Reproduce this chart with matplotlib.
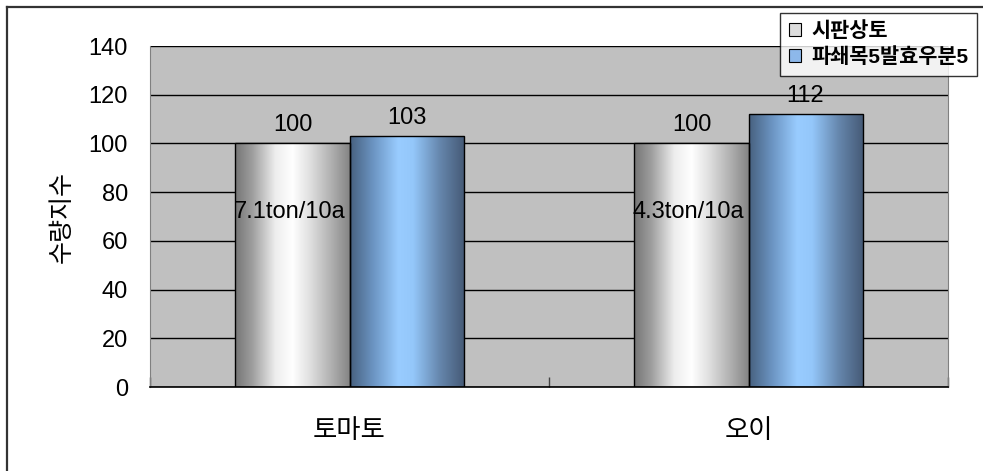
import numpy as np
import matplotlib
matplotlib.use("Agg")
import matplotlib.pyplot as plt
from matplotlib.colors import LinearSegmentedColormap
from matplotlib.patches import Patch
from matplotlib.lines import Line2D

plt.rcParams['font.family'] = ['Liberation Sans', 'Noto Sans CJK KR', 'DejaVu Sans']

# data
crops = ["토마토", "오이"]
series_names = ["시판상토", "파쇄목5발효우분5"]
commercial = [100, 100]
mixed = [103, 112]
yield_notes = ["7.1ton/10a", "4.3ton/10a"]
note_level = 72
yticks = [0, 20, 40, 60, 80, 100, 120, 140]

gray_cmap = LinearSegmentedColormap.from_list("gray_bar", [
    (0.00, (0.46, 0.46, 0.46)),
    (0.15, (0.62, 0.62, 0.62)),
    (0.35, (0.93, 0.93, 0.93)),
    (0.50, (1.00, 1.00, 1.00)),
    (0.65, (0.88, 0.88, 0.88)),
    (0.85, (0.68, 0.68, 0.68)),
    (1.00, (0.52, 0.52, 0.52)),
])
blue_cmap = LinearSegmentedColormap.from_list("blue_bar", [
    (0.00, (0.28, 0.38, 0.50)),
    (0.20, (0.42, 0.58, 0.76)),
    (0.42, (0.60, 0.80, 1.00)),
    (0.55, (0.58, 0.78, 0.98)),
    (0.78, (0.40, 0.53, 0.68)),
    (1.00, (0.27, 0.35, 0.46)),
])

fig = plt.figure(figsize=(9.83, 4.71), dpi=100)
ax = fig.add_axes([150 / 983, 1 - 387 / 471, 798 / 983, 341 / 471])
ax.set_facecolor("#c0c0c0")

x = np.arange(len(crops))
w = 0.286
grad = np.linspace(0, 1, 256).reshape(1, -1)

bars_a = ax.bar(x - w / 2, commercial, w, facecolor="none", edgecolor="black", linewidth=1, zorder=3)
bars_b = ax.bar(x + w / 2, mixed, w, facecolor="none", edgecolor="black", linewidth=1, zorder=3)

for bars, cmap in ((bars_a, gray_cmap), (bars_b, blue_cmap)):
    for b in bars:
        im = ax.imshow(grad, cmap=cmap, aspect="auto", zorder=2,
                       extent=[b.get_x(), b.get_x() + b.get_width(), 0, b.get_height()])
        im.set_clip_path(b)
        ax.annotate(f"{b.get_height():.0f}", (b.get_x() + b.get_width() / 2, b.get_height()),
                    xytext=(0, 5), textcoords="offset points", ha="center", va="bottom",
                    fontsize=17, zorder=4)

for xi, note in zip(x, yield_notes):
    ax.text(xi - 0.01, note_level, note, ha="right", va="center", fontsize=17, zorder=4)

ax.set_xlim(-0.5, len(crops) - 0.5)
ax.set_ylim(0, 140)
ax.set_yticks(yticks)
ax.yaxis.grid(True, color="black", linewidth=1)
ax.set_axisbelow(True)
ax.tick_params(axis="y", length=0, pad=16, labelsize=17)

# category boundaries as major ticks, names as minor tick labels
ax.set_xticks(np.arange(-0.5, len(crops), 1.0))
ax.set_xticklabels([])
ax.set_xticks(x, minor=True)
ax.set_xticklabels(crops, minor=True, fontsize=19)
ax.tick_params(axis="x", which="major", direction="in", length=7, width=1, color="#444444")
ax.tick_params(axis="x", which="minor", length=0, pad=23)

ax.spines["top"].set_visible(False)
ax.spines["left"].set_color("#808080")
ax.spines["right"].set_color("#808080")
ax.spines["bottom"].set_color("black")
ax.spines["bottom"].set_linewidth(1.2)

ax.set_ylabel("수량지수", fontsize=18)
ax.yaxis.set_label_coords(-0.096, 0.5)

handles = [Patch(facecolor="#dcdcdc", edgecolor="black", linewidth=0.8),
           Patch(facecolor="#8db8ea", edgecolor="black", linewidth=0.8)]
leg = fig.legend(handles, series_names, loc="upper right",
                 bbox_to_anchor=(977 / 983, 1 - 13 / 471),
                 prop={"size": 15, "weight": "bold"},
                 frameon=True, fancybox=False, handlelength=0.6, handleheight=0.6,
                 handletextpad=0.5, borderpad=0.4, labelspacing=0.3, borderaxespad=0)
leg.get_frame().set_edgecolor("black")
leg.get_frame().set_linewidth(1)

# outer chart frame (only left and top edges visible)
fig.add_artist(Line2D([7 / 983, 7 / 983], [0, 1 - 7 / 471], transform=fig.transFigure,
                      color="#333333", linewidth=1.6))
fig.add_artist(Line2D([7 / 983, 1], [1 - 7 / 471, 1 - 7 / 471], transform=fig.transFigure,
                      color="#333333", linewidth=1.6))

fig.savefig("out.png", dpi=100)
